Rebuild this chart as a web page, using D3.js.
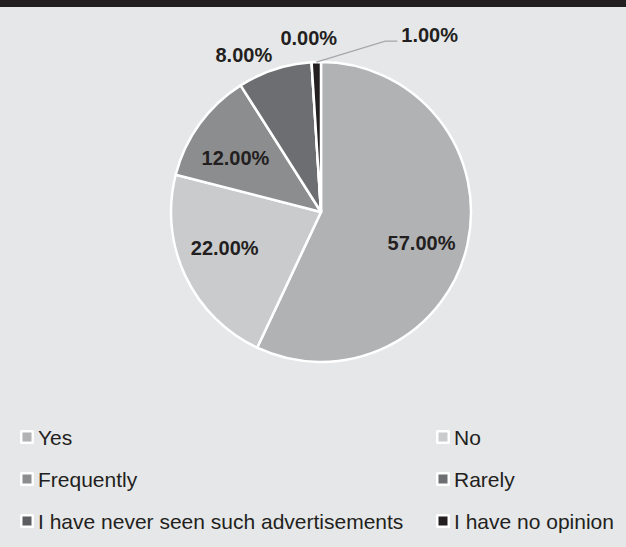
<!DOCTYPE html>
<html>
<head>
<meta charset="utf-8">
<script src="https://cdn.jsdelivr.net/npm/d3@7"></script>
<style>
  html, body { margin: 0; padding: 0; background: #e6e7e8; }
  svg { display: block; }
</style>
</head>
<body>
<svg id="chart" width="626" height="547"></svg>
<script>
// Survey answers and their shares (percent)
const categories = ["Yes", "No", "Frequently", "Rarely", "I have never seen such advertisements", "I have no opinion"];
const shares = [57, 22, 12, 8, 0, 1];
const valueLabels = ["57.00%", "22.00%", "12.00%", "8.00%", "0.00%", "1.00%"];

// Slice fills, one per category
const fills = ["#b1b2b4", "#cacbcd", "#8c8d8f", "#6d6e71", "#5d5e61", "#231f20"];

const W = 626, H = 547;
const cx = 321, cy = 212, R = 150;

const svg = d3.select("#chart");

// background and top band
svg.append("rect").attr("width", W).attr("height", H).attr("fill", "#e6e7e8");
svg.append("rect").attr("width", W).attr("height", 7).attr("fill", "#231f20");

const pie = d3.pie().sort(null).value(d => d).startAngle(0).endAngle(2 * Math.PI);
const arcs = pie(shares);
const arc = d3.arc().innerRadius(0).outerRadius(R);

const g = svg.append("g").attr("transform", `translate(${cx},${cy})`);

g.selectAll("path.slice")
  .data(arcs)
  .join("path")
  .attr("class", "slice")
  .attr("d", arc)
  .attr("fill", (d, i) => fills[i])
  .attr("stroke", "#ffffff")
  .attr("stroke-width", 2.5)
  .attr("stroke-linejoin", "round");

// label placement: inside slice, just outside the rim, or on a leader line
const labelMode = ["in", "in", "in", "out", "out", "leader"];
const labelShift = [[1, 9], [-4, -7], [-3, 6], [0, 0], [26, -9], [0, 0]];
const labelFont = "bold 20px 'Liberation Sans', Arial, sans-serif";
const inArc = d3.arc().innerRadius(R * 0.68).outerRadius(R * 0.68);
const rimArc = d3.arc().innerRadius(R + 8).outerRadius(R + 8);
const edgeArc = d3.arc().innerRadius(R).outerRadius(R);

const labels = g.append("g").attr("class", "labels");

arcs.forEach((d, i) => {
  const mode = labelMode[i];
  const [sx, sy] = labelShift[i];
  if (mode === "in") {
    const [x, y] = inArc.centroid(d);
    labels.append("text")
      .attr("x", x + sx).attr("y", y + sy)
      .attr("text-anchor", "middle")
      .attr("dominant-baseline", "central")
      .style("font", labelFont)
      .attr("fill", "#231f20")
      .text(valueLabels[i]);
  } else if (mode === "out") {
    const [x, y] = rimArc.centroid(d);
    labels.append("text")
      .attr("x", x + sx).attr("y", y + sy)
      .attr("text-anchor", "end")
      .style("font", labelFont)
      .attr("fill", "#231f20")
      .text(valueLabels[i]);
  } else {
    const [ex, ey] = edgeArc.centroid(d);
    const elbow = [ex + 69, ey - 21];
    const end = [elbow[0] + 12, elbow[1]];
    labels.append("polyline")
      .attr("points", [[ex, ey], elbow, end].map(p => p.join(",")).join(" "))
      .attr("fill", "none")
      .attr("stroke", "#a6a7a9")
      .attr("stroke-width", 1.2);
    labels.append("text")
      .attr("x", end[0] + 4).attr("y", end[1] + 1)
      .attr("text-anchor", "start")
      .style("font", labelFont)
      .attr("fill", "#231f20")
      .text(valueLabels[i]);
  }
});

// legend: two columns, three rows
const legendX = [20, 436];
const legendY = [437, 479, 521];
const legend = svg.append("g").attr("class", "legend");
categories.forEach((name, i) => {
  const col = i % 2, row = Math.floor(i / 2);
  const item = legend.append("g")
    .attr("transform", `translate(${legendX[col]},${legendY[row]})`);
  item.append("rect")
    .attr("x", 0).attr("y", -7).attr("width", 14).attr("height", 14)
    .attr("rx", 1.5)
    .attr("fill", "#ffffff");
  item.append("rect")
    .attr("x", 2.5).attr("y", -4.5).attr("width", 9).attr("height", 9)
    .attr("fill", fills[i]);
  item.append("text")
    .attr("x", 18).attr("y", 0)
    .attr("dominant-baseline", "central")
    .style("font", "21px 'Liberation Sans', Arial, sans-serif")
    .attr("fill", "#231f20")
    .text(name);
});
</script>
</body>
</html>
